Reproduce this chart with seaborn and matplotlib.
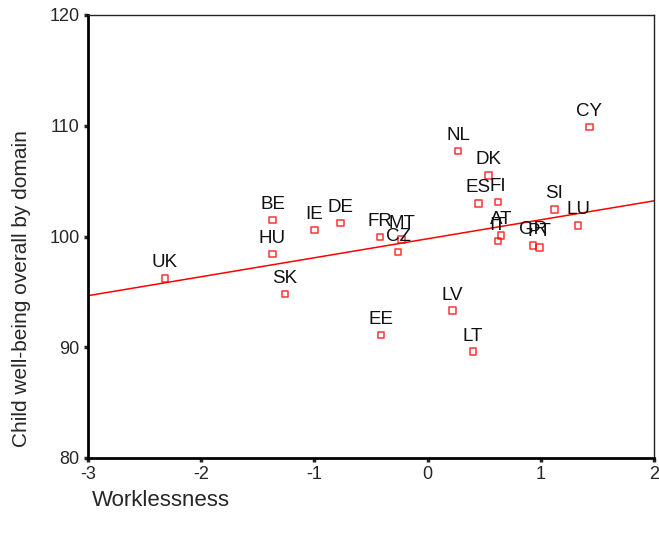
import numpy as np
import pandas as pd
import matplotlib
matplotlib.use("Agg")
import matplotlib.pyplot as plt
import seaborn as sns

# values
countries = ["UK", "BE", "HU", "SK", "IE", "DE", "FR", "MT", "CZ", "EE", "LV", "LT",
             "NL", "DK", "ES", "FI", "AT", "IT", "GR", "PT", "SI", "LU", "CY"]
worklessness = [-2.32, -1.37, -1.37, -1.26, -1.00, -0.77, -0.42, -0.23, -0.26, -0.41, 0.22, 0.40,
                0.27, 0.54, 0.45, 0.62, 0.65, 0.62, 0.93, 0.99, 1.12, 1.33, 1.43]
wellbeing = [96.2, 101.5, 98.4, 94.8, 100.6, 101.2, 99.95, 99.75, 98.6, 91.1, 93.3, 89.6,
             107.7, 105.5, 103.0, 103.1, 100.1, 99.6, 99.2, 99.0, 102.45, 101.0, 109.9]
x_ticks = [-3, -2, -1, 0, 1, 2]
y_ticks = [80, 90, 100, 110, 120]

df = pd.DataFrame({"country": countries, "x": worklessness, "y": wellbeing})

sns.set_style("white")
plt.rcParams["font.family"] = ["Liberation Sans", "DejaVu Sans"]
plt.rcParams["axes.unicode_minus"] = False

fig = plt.figure(figsize=(6.59, 5.40), dpi=100)
ax = fig.add_axes([88 / 659, 1 - 458 / 540, 566 / 659, 443 / 540])
ax.set_xlim(-3, 2)
ax.set_ylim(80, 120)

sns.regplot(data=df, x="x", y="y", ax=ax, ci=None, truncate=False,
            marker="s",
            scatter_kws=dict(s=22, facecolors="none", edgecolors="red", linewidths=1.1),
            line_kws=dict(color="red", lw=1.1))

for c, xv, yv in zip(countries, worklessness, wellbeing):
    ax.annotate(c, (xv, yv), xytext=(0, 8), textcoords="offset points",
                ha="center", va="baseline", fontsize=13.5, color="#111111")

ax.set_xlim(-3, 2)
ax.set_ylim(80, 120)
ax.set_xticks(x_ticks)
ax.set_yticks(y_ticks)
ax.tick_params(axis="both", direction="out", length=3, width=2.5, labelsize=13,
               bottom=True, left=True, pad=3)
ax.set_xlabel("")
ax.set_ylabel("")

for side in ["left", "bottom"]:
    ax.spines[side].set_linewidth(2)
    ax.spines[side].set_color("black")
for side in ["top", "right"]:
    ax.spines[side].set_linewidth(1)
    ax.spines[side].set_color("#222222")

fig.text(22 / 659, 1 - 289 / 540, "Child well-being overall by domain",
         rotation=90, ha="center", va="center", fontsize=15)
fig.text(92 / 659, 1 - 500 / 540, "Worklessness", ha="left", va="center", fontsize=16)

fig.savefig("out.png", dpi=100)
